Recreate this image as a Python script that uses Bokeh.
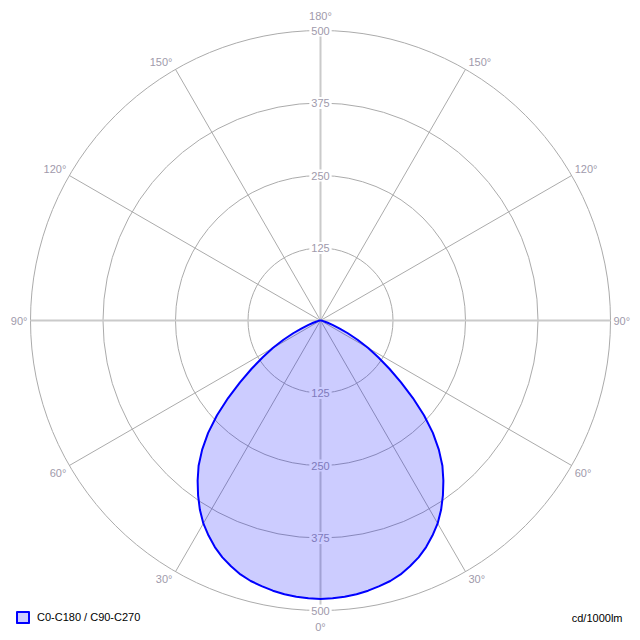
import numpy as np
from bokeh.plotting import figure
from bokeh.models import Range1d, Legend, LegendItem, Label, ColumnDataSource
from bokeh.core.properties import value
from bokeh.embed import file_html
from bokeh.resources import INLINE

# ---- data ----
gamma_deg = [0, 2.5, 5, 7.5, 10, 12.5, 15, 17.5, 20, 22.5, 25, 27.5, 30, 32.5, 35, 37.5,
             40, 42.5, 45, 47.5, 50, 52.5, 55, 57.5, 60, 62.5, 65, 67.5, 70, 72.5, 75,
             77.5, 80, 85, 90, 120, 150, 180]
intensity = [480, 479.5, 478, 476, 473, 469, 465, 459, 451, 442, 431, 418, 404, 387, 368, 348,
             327, 302, 274, 242, 208, 175, 145, 118, 95, 72, 52, 35, 22, 13, 8,
             5, 3, 1, 0, 0, 0, 0]
ring_values = [125, 250, 375, 500]
ring_labels = ["125", "250", "375", "500"]
spoke_angles = [0, 30, 60, 90, 120, 150, 180]
spoke_labels = ["0°", "30°", "60°", "90°", "120°", "150°", "180°"]
series_name = "C0-C180 / C90-C270"
unit_label = "cd/1000lm"

FONT = "Liberation Sans"
LABEL_COLOR = "#a09aab"
GRID_COLOR = "#ababab"
AXIS_COLOR = "#cacaca"

rmax = 500
px_per_unit = 290 / 500
W = 640
half = (W / 2) / px_per_unit

p = figure(width=W, height=W, output_backend="svg", toolbar_location=None,
           x_range=Range1d(-half, half), y_range=Range1d(-half, half),
           min_border=0, outline_line_color=None)
p.axis.visible = False
p.grid.visible = False
p.background_fill_color = "white"
p.border_fill_color = "white"

# rings
p.circle(x=[0] * len(ring_values), y=[0] * len(ring_values), radius=ring_values,
         fill_color=None, line_color=GRID_COLOR, line_width=1)

# spokes (diagonals)
diag = [a for a in spoke_angles if a not in (0, 90, 180)]
xs0, ys0, xs1, ys1 = [], [], [], []
for a in diag:
    t = np.radians(a)
    for s in (-1, 1):
        xs0.append(0); ys0.append(0)
        xs1.append(s * rmax * np.sin(t)); ys1.append(-rmax * np.cos(t))
p.segment(x0=xs0, y0=ys0, x1=xs1, y1=ys1, line_color=GRID_COLOR, line_width=1)
# main cross
p.segment(x0=[-rmax, 0], y0=[0, -rmax], x1=[rmax, 0], y1=[0, rmax],
          line_color=AXIS_COLOR, line_width=2)

# ring labels on vertical axis, top and bottom
rl_x = [0] * (2 * len(ring_values))
rl_y = list(ring_values) + [-v for v in ring_values]
rl_t = ring_labels + ring_labels
p.text(x=rl_x, y=rl_y, text=rl_t, text_align="center", text_baseline="middle",
       text_font=value(FONT), text_font_size="11px", text_color=LABEL_COLOR,
       background_fill_color="white", padding=2)

# angle labels
lx, ly, lt, la, xo, yo = [], [], [], [], [], []
for a, lab in zip(spoke_angles, spoke_labels):
    t = np.radians(a)
    sides = (1,) if a in (0, 180) else (-1, 1)
    for s in sides:
        x = s * rmax * np.sin(t)
        y = -rmax * np.cos(t)
        lx.append(x); ly.append(y); lt.append(lab)
        if a in (0, 180):
            la.append("center"); xo.append(0)
            yo.append(16 if a == 0 else -15)
        else:
            la.append("left" if s > 0 else "right")
            xo.append(3 * s)
            if a == 90:
                yo.append(0)
            elif a < 90:
                yo.append(7)
            else:
                yo.append(-7)
src = ColumnDataSource(dict(x=lx, y=ly, text=lt, align=la, xo=xo, yo=yo))
p.text(x="x", y="y", text="text", text_align="align", x_offset="xo", y_offset="yo",
       text_baseline="middle", text_font=value(FONT), text_font_size="11px",
       text_color=LABEL_COLOR, source=src)

# intensity curve
g = np.array(gamma_deg, dtype=float)
I = np.array(intensity, dtype=float)
ang = np.concatenate([-g[::-1], g[1:]])
val = np.concatenate([I[::-1], I[1:]])
cx = val * np.sin(np.radians(ang))
cy = -val * np.cos(np.radians(ang))
patch = p.patch(x=cx, y=cy, fill_color="blue", fill_alpha=0.2,
                line_color="blue", line_width=2, line_join="round")

legend = Legend(items=[LegendItem(label=series_name, renderers=[patch])],
                location=(15, 16), orientation="horizontal",
                padding=0, margin=0, spacing=0, label_standoff=7,
                glyph_width=15, glyph_height=14, label_height=14,
                label_text_font=FONT, label_text_font_size="11px",
                label_text_color="black",
                border_line_color=None, background_fill_alpha=0)
p.add_layout(legend, "center")

p.add_layout(Label(x=W - 18, y=23, x_units="screen", y_units="screen",
                   text=unit_label, text_align="right", text_baseline="middle",
                   text_font=FONT, text_font_size="11px", text_color="black"))

open("out.html", "w").write(file_html(p, INLINE))
